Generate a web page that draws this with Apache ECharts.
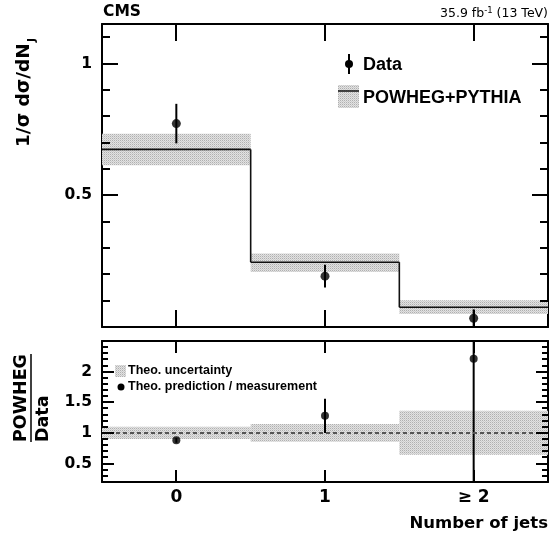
<!DOCTYPE html>
<html><head><meta charset="utf-8">
<script src="https://cdn.jsdelivr.net/npm/echarts@6/dist/echarts.min.js"></script>
<style>html,body{margin:0;padding:0;background:#fff}#c{width:550px;height:542px}</style>
</head><body><div id="c"></div>
<script>
const categories = ['0', '1', '≥ 2'];
const dataVal = [0.772, 0.193, 0.033];
const dataErr = [0.075, 0.043, 0.034];
const powhegVal = [0.674, 0.246, 0.075];
const powhegLo = [0.614, 0.209, 0.049];
const powhegHi = [0.733, 0.279, 0.102];
const ratioVal = [0.88, 1.28, 2.21];
const ratioErr = [0.04, 0.28, 2.3];
const theoLo = [0.90, 0.855, 0.644];
const theoHi = [1.10, 1.147, 1.364];
const topMajorTicks = [0.5, 1];
const topMinorTicks = [0.1, 0.2, 0.3, 0.4, 0.6, 0.7, 0.8, 0.9, 1.1];
const botMajorTicks = [0.5, 1, 1.5, 2];
const botMinorTicks = [0.3, 0.4, 0.6, 0.7, 0.8, 0.9, 1.1, 1.2, 1.3, 1.4, 1.6, 1.7, 1.8, 1.9, 2.1, 2.2, 2.3, 2.4];

function makePattern() {
  const c = document.createElement('canvas'); c.width = 2; c.height = 2;
  const ctx = c.getContext('2d');
  ctx.fillStyle = '#e2e2e2'; ctx.fillRect(0, 0, 2, 2);
  ctx.fillStyle = '#b0b0b0'; ctx.fillRect(0, 0, 1, 1);
  ctx.fillStyle = '#cccccc'; ctx.fillRect(1, 1, 1, 1);
  return { image: c, repeat: 'repeat' };
}
const pattern = makePattern();
const chart = echarts.init(document.getElementById('c'), null, { renderer: 'canvas' });
const TICKFONT = { fontFamily: 'DejaVu Sans', fontWeight: 'bold', fontSize: 15.5, color: '#000' };
const LINE = { show: true, onZero: false, lineStyle: { color: '#000', width: 2 } };

function yAx(grid, min, max, pos, labels) {
  return { type: 'value', gridIndex: grid, min: min, max: max, position: pos,
    axisLine: LINE, axisTick: { show: false }, splitLine: { show: false },
    axisLabel: labels ? Object.assign({ show: true, customValues: labels, margin: 10, formatter: v => String(v) }, TICKFONT) : { show: false } };
}
function xAx(grid, pos, showLabel) {
  return { type: 'category', gridIndex: grid, position: pos, data: categories, boundaryGap: true,
    axisLine: LINE, axisTick: { show: false }, splitLine: { show: false },
    axisLabel: showLabel ? Object.assign({ show: true, interval: 0, margin: 7 }, TICKFONT, { fontSize: 17 }) : { show: false } };
}
const TICKSTYLE = { stroke: '#000', lineWidth: 2 };
function yTickSeries(xi, yi, values, len) {
  return { type: 'custom', xAxisIndex: xi, yAxisIndex: yi, silent: true, z: 6, encode: { x: 0, y: 1 },
    data: values.map(v => [0, v]),
    renderItem: (params, api) => {
      const cs = params.coordSys; const y = Math.round(api.coord([0, api.value(1)])[1]);
      return { type: 'group', children: [
        { type: 'line', shape: { x1: cs.x, y1: y, x2: cs.x + len, y2: y }, style: TICKSTYLE },
        { type: 'line', shape: { x1: cs.x + cs.width - len, y1: y, x2: cs.x + cs.width, y2: y }, style: TICKSTYLE } ] };
    } };
}
function xTickSeries(xi, yi, len) {
  return { type: 'custom', xAxisIndex: xi, yAxisIndex: yi, silent: true, z: 6, encode: { x: 0 },
    data: categories.map((c, i) => [i]),
    renderItem: (params, api) => {
      const cs = params.coordSys; const x = Math.round(api.coord([api.value(0), 1])[0]);
      return { type: 'group', children: [
        { type: 'line', shape: { x1: x, y1: cs.y + cs.height, x2: x, y2: cs.y + cs.height - len }, style: TICKSTYLE },
        { type: 'line', shape: { x1: x, y1: cs.y, x2: x, y2: cs.y + len }, style: TICKSTYLE } ] };
    } };
}
function bandItem(params, api) {
  const i = api.value(0), lo = api.value(1), hi = api.value(2);
  const a = api.coord([i, hi]), b = api.coord([i, lo]);
  const w = api.size([1, 0])[0];
  return { type: 'rect', shape: { x: a[0] - w / 2, y: a[1], width: w, height: b[1] - a[1] }, style: { fill: pattern } };
}
function errItem(params, api) {
  const i = api.value(0), v = api.value(1), e = api.value(2);
  const cs = params.coordSys;
  const a = api.coord([i, v + e]), b = api.coord([i, v - e]);
  const y1 = Math.max(cs.y, a[1]), y2 = Math.min(cs.y + cs.height, b[1]);
  return { type: 'line', shape: { x1: a[0], y1: y1, x2: a[0], y2: y2 }, style: { stroke: '#000', lineWidth: 2 } };
}
function stepItem(params, api) {
  const i = api.value(0), v = api.value(1), nv = api.value(2), last = api.value(3);
  const p = api.coord([i, v]), q = api.coord([i, nv]);
  const w = api.size([1, 0])[0];
  const ch = [{ type: 'line', shape: { x1: p[0] - w / 2, y1: p[1], x2: p[0] + w / 2, y2: p[1] }, style: { stroke: '#111', lineWidth: 1.6 } }];
  if (!last) ch.push({ type: 'line', shape: { x1: p[0] + w / 2, y1: p[1], x2: p[0] + w / 2, y2: q[1] }, style: { stroke: '#111', lineWidth: 1.6 } });
  return { type: 'group', children: ch };
}
const idx = categories.map((c, i) => i);
const option = {
  animation: false,
  backgroundColor: '#fff',
  grid: [
    { left: 102, right: 2, top: 24, height: 303, show: false },
    { left: 102, right: 2, top: 341, height: 141, show: false }
  ],
  xAxis: [xAx(0, 'bottom', false), xAx(0, 'top', false), xAx(1, 'bottom', true), xAx(1, 'top', false)],
  yAxis: [yAx(0, 0, 1.15, 'left', topMajorTicks), yAx(0, 0, 1.15, 'right', null),
          yAx(1, 0.2, 2.5, 'left', botMajorTicks), yAx(1, 0.2, 2.5, 'right', null)],
  series: [
    { type: 'custom', xAxisIndex: 0, yAxisIndex: 0, renderItem: bandItem, encode: { x: 0, y: [1, 2] },
      data: idx.map(i => [i, powhegLo[i], powhegHi[i]]), silent: true, z: 1 },
    { type: 'custom', xAxisIndex: 0, yAxisIndex: 0, renderItem: stepItem, encode: { x: 0, y: 1 },
      data: idx.map(i => [i, powhegVal[i], i + 1 < idx.length ? powhegVal[i + 1] : powhegVal[i], i + 1 < idx.length ? 0 : 1]), silent: true, z: 3 },
    { type: 'custom', xAxisIndex: 0, yAxisIndex: 0, renderItem: errItem, encode: { x: 0, y: 1 },
      data: idx.map(i => [i, dataVal[i], dataErr[i]]), silent: true, z: 4 },
    { type: 'scatter', xAxisIndex: 0, yAxisIndex: 0, symbol: 'circle', symbolSize: 9, itemStyle: { color: '#000' },
      data: idx.map(i => [i, dataVal[i]]), silent: true, z: 5 },
    yTickSeries(0, 0, topMajorTicks, 16), yTickSeries(0, 0, topMinorTicks, 8), xTickSeries(0, 0, 17),
    { type: 'custom', xAxisIndex: 2, yAxisIndex: 2, renderItem: bandItem, encode: { x: 0, y: [1, 2] },
      data: idx.map(i => [i, theoLo[i], theoHi[i]]), silent: true, z: 1,
      markLine: { silent: true, symbol: 'none', label: { show: false }, lineStyle: { type: [4, 3], color: '#555', width: 2 }, data: [{ yAxis: 1 }] } },
    { type: 'custom', xAxisIndex: 2, yAxisIndex: 2, renderItem: errItem, encode: { x: 0, y: 1 },
      data: idx.map(i => [i, ratioVal[i], ratioErr[i]]), silent: true, z: 4 },
    { type: 'scatter', xAxisIndex: 2, yAxisIndex: 2, symbol: 'circle', symbolSize: 8, itemStyle: { color: '#000' },
      data: idx.map(i => [i, ratioVal[i]]), silent: true, z: 5 },
    yTickSeries(2, 2, botMajorTicks, 12), yTickSeries(2, 2, botMinorTicks, 6), xTickSeries(2, 2, 12)
  ],
  graphic: [
    { type: 'text', x: 103, y: 12, style: { text: 'CMS', fontFamily: 'DejaVu Sans', fontWeight: 'bold', fontSize: 15.5, fill: '#000', align: 'left', verticalAlign: 'middle' } },
    { type: 'text', x: 548, y: 13, style: { text: '{n|35.9 fb}{s|-1}{n| (13 TeV)}', align: 'right', verticalAlign: 'middle', fill: '#000',
      rich: { n: { fontFamily: 'DejaVu Sans', fontSize: 12.5, lineHeight: 14, verticalAlign: 'bottom' }, s: { fontFamily: 'DejaVu Sans', fontSize: 8.5, lineHeight: 14, verticalAlign: 'top' } } } },
    { type: 'group', x: 24, y: 147, rotation: Math.PI / 2, children: [
      { type: 'text', x: 0, y: 0, style: { text: '1/σ dσ/dN', fontFamily: 'DejaVu Sans', fontWeight: 'bold', fontSize: 18.5, fill: '#000', align: 'left', verticalAlign: 'middle' } },
      { type: 'text', x: 105, y: 8, style: { text: 'J', fontFamily: 'DejaVu Sans', fontWeight: 'bold', fontSize: 11, fill: '#000', align: 'left', verticalAlign: 'middle' } }
    ] },
    { type: 'group', x: 31, y: 442, rotation: Math.PI / 2, children: [
      { type: 'text', x: 0, y: -10, style: { text: 'POWHEG', fontFamily: 'DejaVu Sans', fontWeight: 'bold', fontSize: 17.5, fill: '#000', align: 'left', verticalAlign: 'middle' } },
      { type: 'line', shape: { x1: 0, y1: 0, x2: 88, y2: 0 }, style: { stroke: '#000', lineWidth: 1.5 } },
      { type: 'text', x: 0, y: 12, style: { text: 'Data', fontFamily: 'DejaVu Sans', fontWeight: 'bold', fontSize: 17.5, fill: '#000', align: 'left', verticalAlign: 'middle' } }
    ] },
    { type: 'text', x: 548, y: 524, style: { text: 'Number of jets', fontFamily: 'DejaVu Sans', fontWeight: 'bold', fontSize: 16.5, fill: '#000', align: 'right', verticalAlign: 'middle' } },
    { type: 'line', shape: { x1: 349, y1: 54, x2: 349, y2: 74 }, style: { stroke: '#000', lineWidth: 2 } },
    { type: 'circle', shape: { cx: 349, cy: 64, r: 4 }, style: { fill: '#000' } },
    { type: 'text', x: 363, y: 65, style: { text: 'Data', fontFamily: 'Liberation Sans', fontWeight: 'bold', fontSize: 18, fill: '#000', align: 'left', verticalAlign: 'middle' } },
    { type: 'rect', shape: { x: 338, y: 85, width: 21, height: 23 }, style: { fill: pattern } },
    { type: 'line', shape: { x1: 338, y1: 91, x2: 359, y2: 91 }, style: { stroke: '#111', lineWidth: 1.5 } },
    { type: 'text', x: 363, y: 98, style: { text: 'POWHEG+PYTHIA', fontFamily: 'Liberation Sans', fontWeight: 'bold', fontSize: 18, fill: '#000', align: 'left', verticalAlign: 'middle' } },
    { type: 'rect', shape: { x: 115, y: 365, width: 11, height: 12 }, style: { fill: pattern } },
    { type: 'text', x: 128, y: 371, style: { text: 'Theo. uncertainty', fontFamily: 'Liberation Sans', fontWeight: 'bold', fontSize: 12.5, fill: '#000', align: 'left', verticalAlign: 'middle' } },
    { type: 'circle', shape: { cx: 121, cy: 387, r: 3.5 }, style: { fill: '#000' } },
    { type: 'text', x: 128, y: 387, style: { text: 'Theo. prediction / measurement', fontFamily: 'Liberation Sans', fontWeight: 'bold', fontSize: 12.5, fill: '#000', align: 'left', verticalAlign: 'middle' } }
  ]
};
chart.setOption(option);
</script>
</body></html>
